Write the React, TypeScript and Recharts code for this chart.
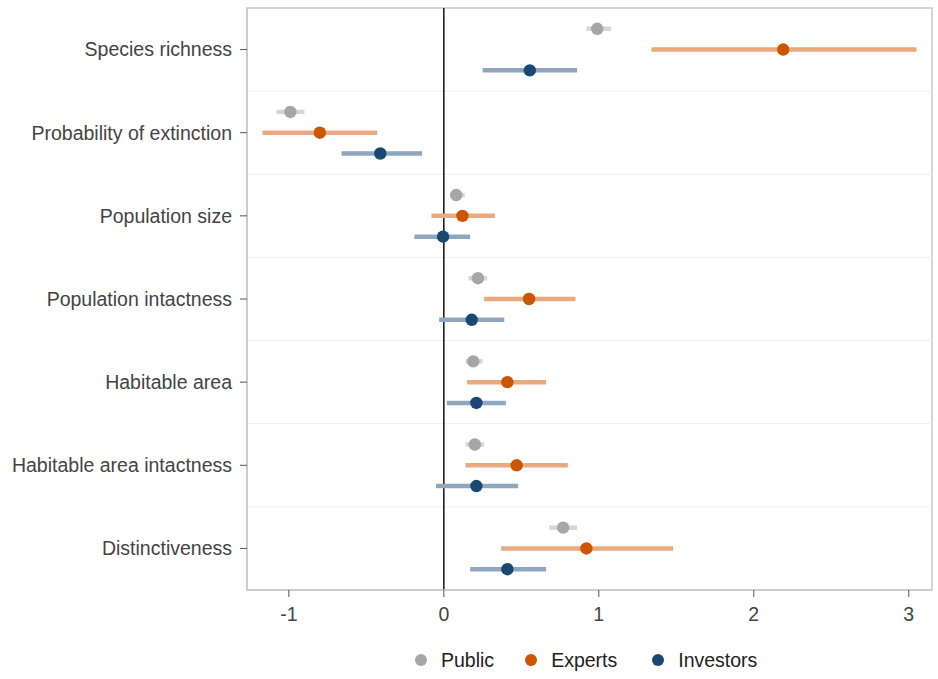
import React from "react";
import {
  ScatterChart,
  Scatter,
  XAxis,
  YAxis,
  ErrorBar,
  ReferenceLine,
  ReferenceArea,
  Legend,
} from "recharts";

const categories = [
  "Species richness",
  "Probability of extinction",
  "Population size",
  "Population intactness",
  "Habitable area",
  "Habitable area intactness",
  "Distinctiveness",
];

const publicMean = [0.99, -0.99, 0.08, 0.22, 0.19, 0.2, 0.77];
const publicLow = [0.92, -1.08, 0.04, 0.16, 0.14, 0.14, 0.68];
const publicHigh = [1.08, -0.9, 0.135, 0.28, 0.25, 0.26, 0.86];

const expertsMean = [2.19, -0.8, 0.12, 0.55, 0.41, 0.47, 0.92];
const expertsLow = [1.34, -1.17, -0.08, 0.26, 0.15, 0.14, 0.37];
const expertsHigh = [3.05, -0.43, 0.33, 0.85, 0.66, 0.8, 1.48];

const investorsMean = [0.555, -0.41, -0.005, 0.18, 0.21, 0.21, 0.41];
const investorsLow = [0.25, -0.66, -0.19, -0.03, 0.02, -0.05, 0.17];
const investorsHigh = [0.86, -0.14, 0.17, 0.39, 0.4, 0.48, 0.66];

const xTicks = [-1, 0, 1, 2, 3];

const groups = [
  { name: "Public", mean: publicMean, low: publicLow, high: publicHigh, offset: -0.25, dot: "#a6a6a6", ci: "#d6d6d6" },
  { name: "Experts", mean: expertsMean, low: expertsLow, high: expertsHigh, offset: 0, dot: "#cc5500", ci: "#eaa97f" },
  { name: "Investors", mean: investorsMean, low: investorsLow, high: investorsHigh, offset: 0.25, dot: "#1a4873", ci: "#8ea6be" },
];

const seriesData = groups.map((g) =>
  categories.map((c, i) => ({
    category: c,
    x: g.mean[i],
    y: i + g.offset,
    err: [g.mean[i] - g.low[i], g.high[i] - g.mean[i]],
  }))
);

const FONT = "'Liberation Sans', Arial, sans-serif";

const makeDot = (color: string) => (props: any) => (
  <circle cx={props.cx} cy={props.cy} r={6.2} fill={color} />
);

const legendGaps = [0, 31, 35];

const LegendContent = () => (
  <div
    style={{
      display: "flex",
      justifyContent: "flex-start",
      alignItems: "center",
      height: 24,
      fontFamily: FONT,
      fontSize: 19.5,
      color: "#222",
    }}
  >
    {groups.map((g, i) => (
      <div key={g.name} style={{ display: "flex", alignItems: "center", marginLeft: legendGaps[i] }}>
        <svg width={12} height={12} style={{ marginRight: 14 }}>
          <circle cx={6} cy={6} r={6} fill={g.dot} />
        </svg>
        <span>{g.name}</span>
      </div>
    ))}
  </div>
);

export default function App() {
  return (
    <div style={{ position: "absolute", left: 0, top: 0, background: "#fff" }}>
      <ScatterChart
        width={938}
        height={679}
        margin={{ top: 8, right: 6, left: 0, bottom: 25 }}
      >
        <ReferenceArea
          x1={-1.27}
          x2={3.15}
          y1={-0.5}
          y2={6.5}
          fill="none"
          stroke="#c8c8c8"
          strokeWidth={1.5}
          ifOverflow="extendDomain"
        />
        {[0.5, 1.5, 2.5, 3.5, 4.5, 5.5].map((v) => (
          <ReferenceLine key={v} y={v} stroke="#eeeeee" strokeWidth={1} />
        ))}
        <XAxis
          type="number"
          dataKey="x"
          domain={[-1.27, 3.15]}
          allowDataOverflow
          ticks={xTicks}
          tickSize={7}
          tickMargin={10}
          axisLine={{ stroke: "#c8c8c8", strokeWidth: 1.5 }}
          tickLine={{ stroke: "#555" }}
          tick={{ fill: "#444", fontSize: 19.5, fontFamily: FONT }}
          height={40}
        />
        <YAxis
          type="number"
          dataKey="y"
          domain={[-0.5, 6.5]}
          allowDataOverflow
          reversed
          ticks={[0, 1, 2, 3, 4, 5, 6]}
          tickFormatter={(v: number) => categories[v] ?? ""}
          width={247}
          tickSize={7}
          tickMargin={8}
          axisLine={{ stroke: "#c8c8c8", strokeWidth: 1.5 }}
          tickLine={{ stroke: "#555" }}
          tick={{ fill: "#444", fontSize: 19.5, fontFamily: FONT }}
        />
        <ReferenceLine x={0} stroke="#111" strokeWidth={1.5} />
        {groups.map((g, gi) => (
          <Scatter
            key={g.name}
            name={g.name}
            data={seriesData[gi]}
            fill={g.dot}
            shape={makeDot(g.dot)}
            isAnimationActive={false}
          >
            <ErrorBar
              dataKey="err"
              direction="x"
              width={0}
              stroke={g.ci}
              strokeWidth={4.5}
              isAnimationActive={false}
            />
          </Scatter>
        ))}
        <Legend
          content={<LegendContent />}
          wrapperStyle={{ position: "absolute", left: 415, width: 500, top: 648 }}
        />
      </ScatterChart>
    </div>
  );
}
